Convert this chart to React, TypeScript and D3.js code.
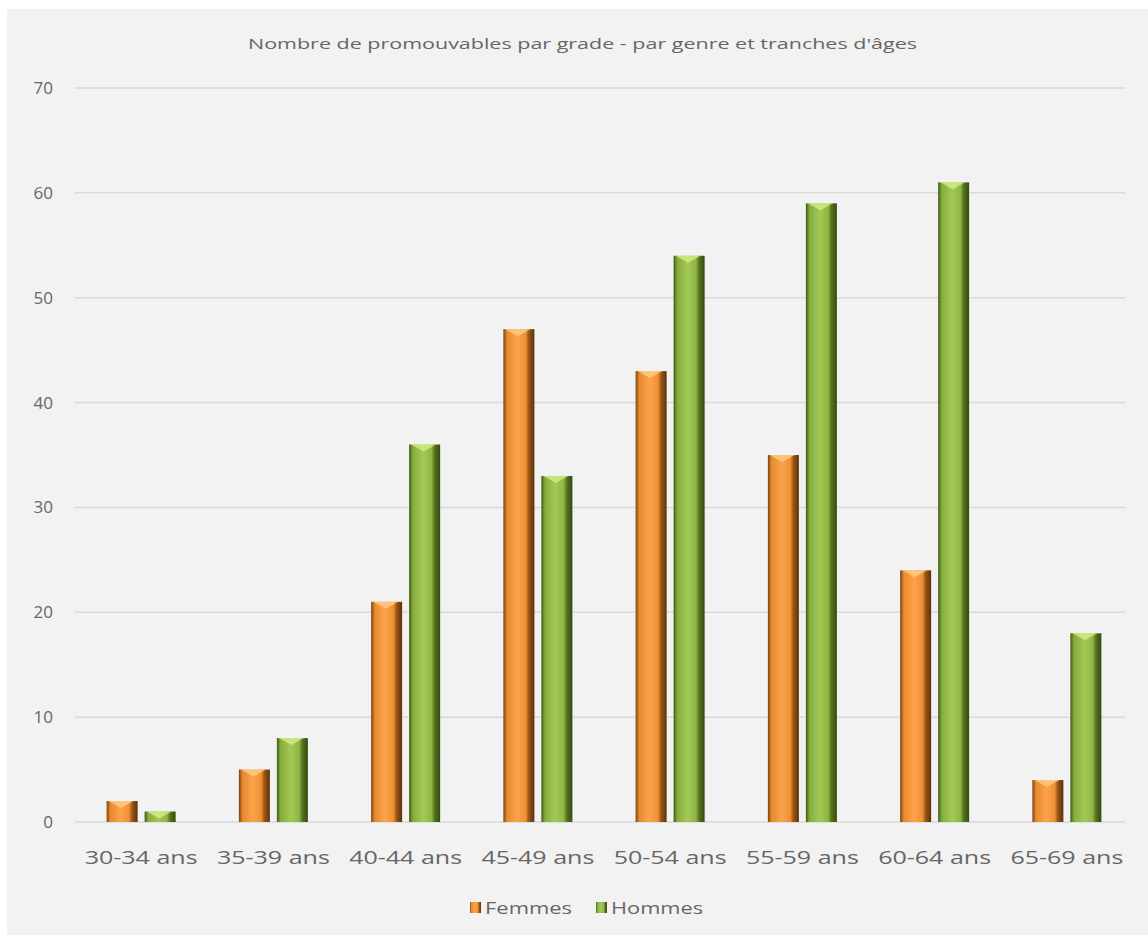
import React from "react";
import * as d3 from "d3";

const categories = ["30-34 ans", "35-39 ans", "40-44 ans", "45-49 ans", "50-54 ans", "55-59 ans", "60-64 ans", "65-69 ans"];
const femmes = [2, 5, 21, 47, 43, 35, 24, 4];
const hommes = [1, 8, 36, 33, 54, 59, 61, 18];
const yTicks = [0, 10, 20, 30, 40, 50, 60, 70];
const seriesNames = ["Femmes", "Hommes"];
const title = "Nombre de promouvables par grade - par genre et tranches d'âges";

const W = 1148;
const H = 935;
const FONT = "'Open Sans', Lato, sans-serif";
const TEXT = "#666666";

export default function App() {
  const x = d3.scaleBand<string>().domain(categories).range([75, 1133]).paddingInner(0).paddingOuter(0);
  const y = d3.scaleLinear().domain([0, 70]).range([822, 88]);
  const barW = 31;
  const gap = 7;
  const series = [
    { name: seriesNames[0], values: femmes, grad: "gF", cap: "#ffd08a", lx: 470, tl: 87 },
    { name: seriesNames[1], values: hommes, grad: "gH", cap: "#d6f08a", lx: 596, tl: 92 },
  ];
  return (
    <div style={{ position: "fixed", left: 0, top: 0 }}>
      <svg width={W} height={H} style={{ display: "block" }}>
        <defs>
          <linearGradient id="gF" x1="0" x2="1" y1="0" y2="0">
            <stop offset="0" stopColor="#7a4312" />
            <stop offset="0.12" stopColor="#e88a30" />
            <stop offset="0.45" stopColor="#fba34c" />
            <stop offset="0.72" stopColor="#f19035" />
            <stop offset="0.82" stopColor="#9a5616" />
            <stop offset="1" stopColor="#5c3208" />
          </linearGradient>
          <linearGradient id="gH" x1="0" x2="1" y1="0" y2="0">
            <stop offset="0" stopColor="#3f5a14" />
            <stop offset="0.12" stopColor="#86ac3e" />
            <stop offset="0.45" stopColor="#a3c955" />
            <stop offset="0.72" stopColor="#8fb545" />
            <stop offset="0.82" stopColor="#56741f" />
            <stop offset="1" stopColor="#34490e" />
          </linearGradient>
          <filter id="blur" x="-10%" y="-200%" width="120%" height="500%">
            <feGaussianBlur stdDeviation="1" />
          </filter>
        </defs>
        <rect x={0} y={0} width={W} height={H} fill="#ffffff" />
        <rect x={7} y={9} width={W - 7} height={H - 9} fill="#f2f2f2" />
        <text x={582.5} y={49} textAnchor="middle" fontFamily={FONT} fontSize={15} fill={TEXT} textLength={669} lengthAdjust="spacingAndGlyphs">
          {title}
        </text>
        {yTicks.map((t) => (
          <g key={t}>
            <line x1={75} x2={1125} y1={y(t) + 1} y2={y(t) + 1} stroke="#e2e2e2" strokeWidth={3} filter="url(#blur)" />
            <line x1={75} x2={1125} y1={y(t)} y2={y(t)} stroke="#d9d9d9" strokeWidth={1.5} />
            <text x={53} y={y(t) + 6} textAnchor="end" fontFamily={FONT} fontSize={17} fill={TEXT}>
              {t}
            </text>
          </g>
        ))}
        {categories.map((c, i) => {
          const cx = (x(c) as number) + x.bandwidth() / 2;
          return (
            <g key={c}>
              {series.map((s, k) => {
                const v = s.values[i];
                const bx = k === 0 ? cx - gap / 2 - barW : cx + gap / 2;
                const top = y(v);
                const h = y(0) - top;
                const capH = Math.min(7, h);
                return (
                  <g key={s.name}>
                    <rect x={bx} y={top} width={barW} height={h} fill={`url(#${s.grad})`} />
                    <path
                      d={`M${bx + 2},${top} L${bx + barW - 4},${top} L${bx + barW / 2 - 1},${top + capH} Z`}
                      fill={s.cap}
                      opacity={0.75}
                    />
                  </g>
                );
              })}
              <text x={cx} y={864} textAnchor="middle" fontFamily={FONT} fontSize={19} fill={TEXT} textLength={113} lengthAdjust="spacingAndGlyphs">
                {c}
              </text>
            </g>
          );
        })}
        {series.map((s) => (
          <g key={s.name}>
            <rect x={s.lx} y={902} width={11} height={11} fill={`url(#${s.grad})`} />
            <text x={s.lx + 15} y={914} fontFamily={FONT} fontSize={16} fill={TEXT} textLength={s.tl} lengthAdjust="spacingAndGlyphs">
              {s.name}
            </text>
          </g>
        ))}
      </svg>
    </div>
  );
}
